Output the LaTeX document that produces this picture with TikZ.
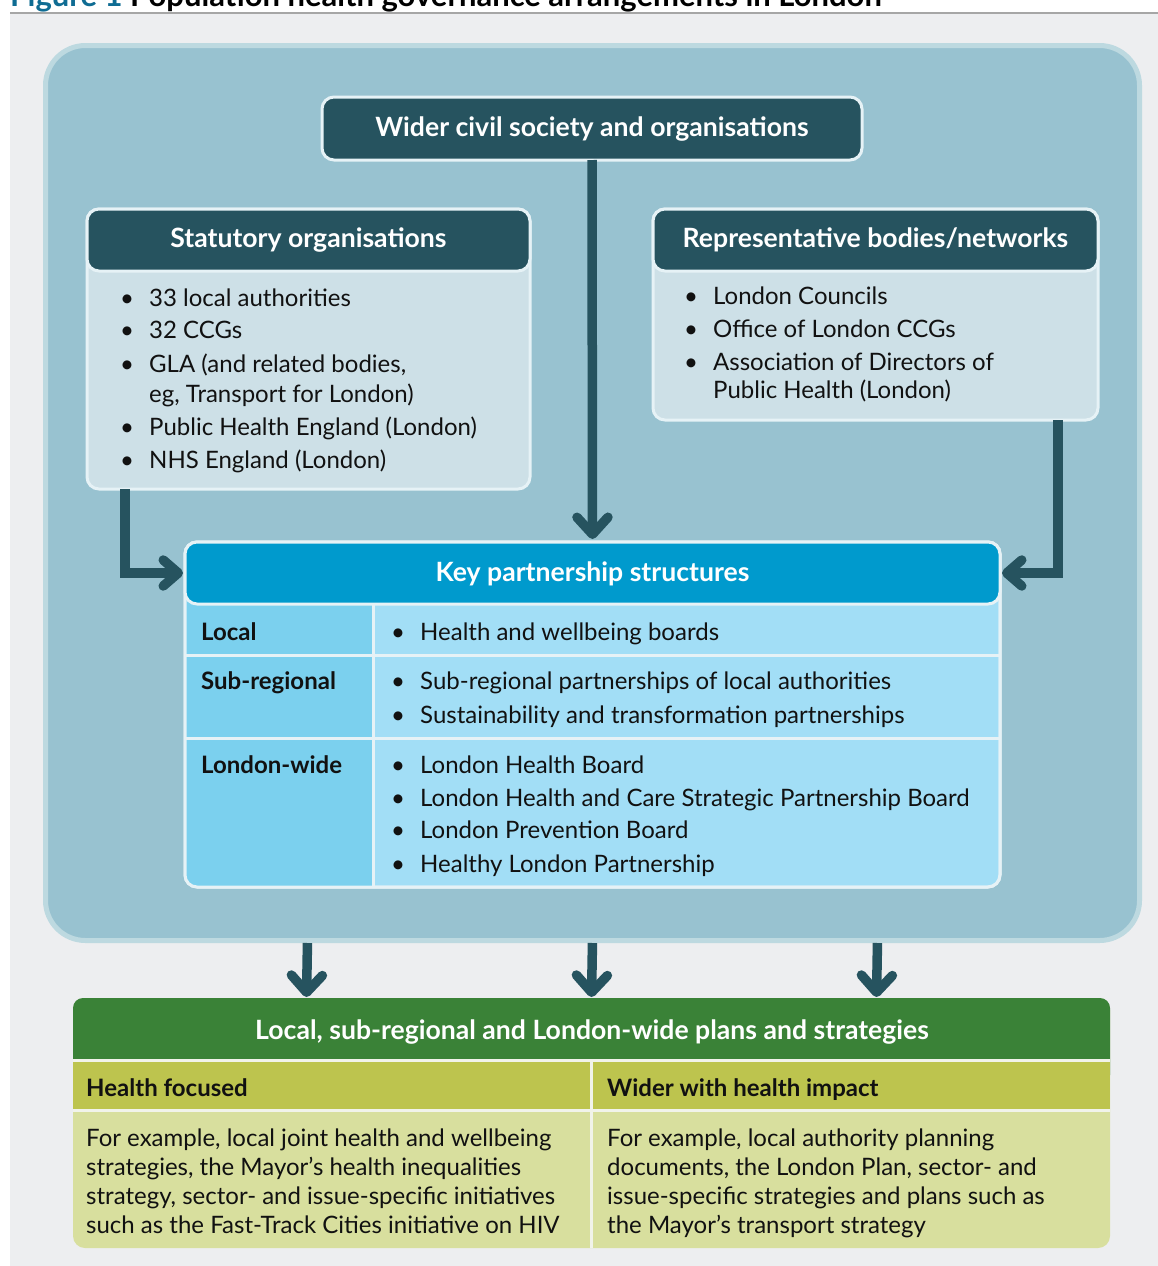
\documentclass[tikz,border=0pt]{standalone}
\usepackage{fontspec}
\setmainfont{Lato}
\usetikzlibrary{arrows.meta,calc}
\definecolor{bggray}{HTML}{EDEEF0}
\definecolor{rimcol}{HTML}{BDD9E0}
\definecolor{outerfill}{HTML}{98C2D0}
\definecolor{darkteal}{HTML}{26535F}
\definecolor{lightbody}{HTML}{CDE0E7}
\definecolor{edgecol}{HTML}{E6F2F6}
\definecolor{keyheadcol}{HTML}{009ACD}
\definecolor{keyleft}{HTML}{7BD0EE}
\definecolor{keyright}{HTML}{A2DEF6}
\definecolor{ghead}{HTML}{3A8237}
\definecolor{gsub}{HTML}{BDC44E}
\definecolor{gbody}{HTML}{D8DF9E}
\definecolor{gsep}{HTML}{F1F3EA}
\definecolor{ink}{HTML}{111111}
\definecolor{figblue}{HTML}{0F6C93}
\newcommand\bulmark{\makebox[29pt][l]{\textbullet}}
\tikzset{
  box/.style={rectangle, rounded corners=12pt, line width=3pt, draw=edgecol, inner sep=0pt, outer sep=0pt, anchor=north west},
  txt/.style={inner sep=0pt, anchor=base west, text=ink, font=\fontsize{24pt}{30pt}\selectfont},
  lab/.style={inner sep=0pt, anchor=base west, text=ink, font=\bfseries\fontsize{24pt}{30pt}\selectfont},
  hdr/.style={inner sep=0pt, anchor=base, text=white, font=\bfseries\fontsize{26.6pt}{30pt}\selectfont},
  conn/.style={draw=darkteal, line width=9.5pt, -{Straight Barb[length=17pt,width=31pt,round]}},
  sideconn/.style={draw=darkteal, line width=9.5pt, -{Straight Barb[length=15pt,width=26pt,round]}},
}
\begin{document}
\begin{tikzpicture}[x=1pt,y=-1pt]
\useasboundingbox (0,0) rectangle (1158,1266);
% page background and title rule
\fill[bggray] (10,14) rectangle (1158,1266);
\begin{scope}
  \clip (0,0) rectangle (1158,11);
  \node[inner sep=0pt, anchor=base west, font=\bfseries\fontsize{31pt}{34pt}\selectfont] (figtitle) at (10,6.5) {\textcolor{figblue}{Figure 1} Population health governance arrangements in London};
\end{scope}
\draw[black!35, line width=1.5pt] (10,13) -- (1158,13);

% outer container
\node[rectangle, rounded corners=40pt, line width=5pt, draw=rimcol, fill=outerfill, minimum width=1094pt, minimum height=895pt, anchor=north west, inner sep=0pt, outer sep=0pt] (outer) at (45.5,45.5) {};

% top box
\node[box, fill=darkteal, minimum width=540pt, minimum height=63pt] (wider) at (322,97) {};
\node[hdr] (widert) at (592,136) {Wider civil society and organisations};

% statutory organisations
\node[box, fill=lightbody, minimum width=443pt, minimum height=280pt] (statbody) at (87,209) {};
\node[box, fill=darkteal, minimum width=443pt, minimum height=62pt] (stathead) at (87,209) {};
\node[hdr] (statt) at (308.5,247) {Statutory organisations};
\node[txt] (s1) at (120,306) {\bulmark 33 local authorities};
\node[txt] (s2) at (120,338) {\bulmark 32 CCGs};
\node[txt] (s3) at (120,372) {\bulmark GLA (and related bodies,};
\node[txt] (s3b) at (149,402) {eg, Transport for London)};
\node[txt] (s4) at (120,435) {\bulmark Public Health England (London)};
\node[txt] (s5) at (120,468) {\bulmark NHS England (London)};

% representative bodies
\node[box, fill=lightbody, minimum width=445pt, minimum height=211pt] (repbody) at (653,209) {};
\node[box, fill=darkteal, minimum width=445pt, minimum height=62pt] (rephead) at (653,209) {};
\node[hdr] (rept) at (875.5,247) {Representative bodies/networks};
\node[txt] (r1) at (684,304) {\bulmark London Councils};
\node[txt] (r2) at (684,337) {\bulmark Office of London CCGs};
\node[txt] (r3) at (684,370) {\bulmark Association of Directors of};
\node[txt] (r3b) at (713,398) {Public Health (London)};

% key partnership structures
\node[box, fill=keyright, minimum width=815pt, minimum height=345pt] (keybody) at (185,542) {};
\begin{scope}
  \clip[rounded corners=12pt] (185,542) rectangle (1000,887);
  \fill[keyleft] (185,542) rectangle (373,887);
\end{scope}
\draw[edgecol, line width=3pt] (185,655) -- (1000,655);
\draw[edgecol, line width=3pt] (185,738) -- (1000,738);
\draw[edgecol, line width=3pt] (373,604) -- (373,887);
\draw[edgecol, line width=3pt, rounded corners=12pt] (185,542) rectangle (1000,887);
\node[box, fill=keyheadcol, minimum width=815pt, minimum height=62pt] (keyhead) at (185,542) {};
\node[hdr] (keyt) at (592.5,581) {Key partnership structures};
\node[lab] (l1) at (201,640) {Local};
\node[lab] (l2) at (201,689) {Sub-regional};
\node[lab] (l3) at (201,773) {London-wide};
\node[txt] (k1) at (391,640) {\bulmark Health and wellbeing boards};
\node[txt] (k2) at (391,689) {\bulmark Sub-regional partnerships of local authorities};
\node[txt] (k3) at (391,723) {\bulmark Sustainability and transformation partnerships};
\node[txt] (k4) at (391,773) {\bulmark London Health Board};
\node[txt] (k5) at (391,806) {\bulmark London Health and Care Strategic Partnership Board};
\node[txt] (k6) at (391,838) {\bulmark London Prevention Board};
\node[txt] (k7) at (391,872) {\bulmark Healthy London Partnership};

% plans and strategies
\node[rectangle, rounded corners=12pt, fill=gbody, minimum width=1037pt, minimum height=250pt, anchor=north west, inner sep=0pt, outer sep=0pt] (green) at (73,998) {};
\fill[ghead, rounded corners=10pt] (73,998) rectangle (1110,1085);
\fill[gsub] (73,1060) rectangle (1110,1110);
\draw[gsep, line width=3pt] (73,1060.5) -- (1110,1060.5);
\draw[gsep, line width=3pt] (73,1110.5) -- (1110,1110.5);
\draw[gsep, line width=3pt] (591,1062) -- (591,1248);
\node[hdr] (gt) at (592,1039) {Local, sub-regional and London-wide plans and strategies};
\node[lab] (g1) at (86,1096) {Health focused};
\node[lab] (g2) at (607,1096) {Wider with health impact};
\node[txt] (h1) at (86,1146) {For example, local joint health and wellbeing};
\node[txt] (h2) at (86,1175) {strategies, the Mayor’s health inequalities};
\node[txt] (h3) at (86,1204) {strategy, sector- and issue-specific initiatives};
\node[txt] (h4) at (86,1233) {such as the Fast-Track Cities initiative on HIV};
\node[txt] (w1) at (607,1146) {For example, local authority planning};
\node[txt] (w2) at (607,1175) {documents, the London Plan, sector- and};
\node[txt] (w3) at (607,1204) {issue-specific strategies and plans such as};
\node[txt] (w4) at (607,1233) {the Mayor’s transport strategy};

% connectors
\draw[conn, shorten >=3pt] (wider.south) -- (keyhead.north);
\draw[sideconn, shorten >=2pt] ([xshift=-183.5pt]statbody.south) |- (keyhead.west);
\draw[sideconn, shorten >=2pt] ([xshift=182.5pt]repbody.south) |- (keyhead.east);
\foreach \dx in {-285,0,285}{
  \draw[conn, shorten <=2.5pt, shorten >=1pt] ([xshift=\dx pt]outer.south) -- ([xshift=\dx pt]green.north);
}
\end{tikzpicture}
\end{document}
